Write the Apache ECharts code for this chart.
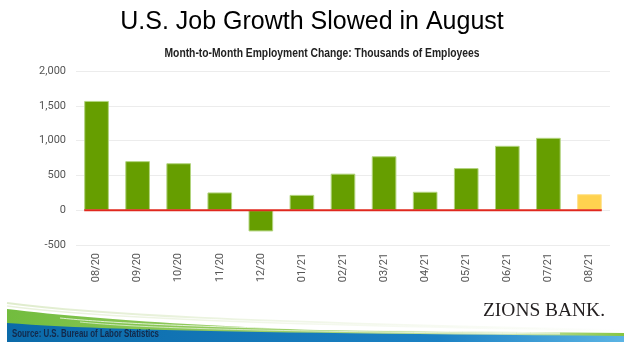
<!DOCTYPE html>
<html>
<head>
<meta charset="utf-8">
<script src="https://cdn.jsdelivr.net/npm/echarts@6/dist/echarts.min.js"></script>
<style>html,body{margin:0;padding:0;background:#fff}#c{width:624px;height:346px}</style>
</head>
<body>
<div id="c"></div>
<script>
const categories = ['08/20','09/20','10/20','11/20','12/20','01/21','02/21','03/21','04/21','05/21','06/21','07/21','08/21'];
const jobChange = [1570, 705, 675, 255, -305, 220, 525, 775, 265, 605, 925, 1040, 230];
const yTicks = { min: -500, max: 2000, interval: 500 };
const titleText = 'U.S. Job Growth Slowed in August';
const subtitleText = 'Month-to-Month Employment Change: Thousands of Employees';
const sourceText = 'Source: U.S. Bureau of Labor Statistics';
const logoText = 'ZIONS BANK.';

const GREEN = '#669e00', YELLOW = '#ffd24f';
const BAR_FRAC = 0.6;

function lg(stops) {
  return { type: 'linear', x: 0, y: 0, x2: 1, y2: 0,
    colorStops: stops.map(s => ({ offset: s[0], color: s[1] })) };
}
function bez(p0, p1, p2, p3, n) {
  const pts = [];
  for (let i = 0; i <= n; i++) {
    const t = i / n, u = 1 - t;
    pts.push([
      u*u*u*p0[0] + 3*u*u*t*p1[0] + 3*u*t*t*p2[0] + t*t*t*p3[0],
      u*u*u*p0[1] + 3*u*u*t*p1[1] + 3*u*t*t*p2[1] + t*t*t*p3[1]
    ]);
  }
  return pts;
}
const mctx = document.createElement('canvas').getContext('2d');
function fitScale(text, font, target) {
  mctx.font = font;
  const w = mctx.measureText(text).width;
  return w > 0 ? target / w : 1;
}
const SUB_FONT = 'bold 12px "Liberation Sans", sans-serif';
const SRC_FONT = 'bold 10.5px "Liberation Sans", sans-serif';
const LOGO_FONT = '18px "Liberation Serif", serif';
const subScale = fitScale(subtitleText, SUB_FONT, 315);
const srcScale = fitScale(sourceText, SRC_FONT, 147);
const logoScale = fitScale(logoText, LOGO_FONT, 122);

const chart = echarts.init(document.getElementById('c'), null, { renderer: 'canvas' });

const barData = jobChange.map((v, i) => ({
  value: v,
  itemStyle: i === jobChange.length - 1
    ? { color: YELLOW, borderColor: '#ffe28c', borderWidth: 1 }
    : { color: GREEN, borderColor: '#b2d47e', borderWidth: 1 }
}));

const greenPts = bez([7,309],[80,318],[200,326],[320,330],24).concat([[624,333],[624,337],[7,337]]);
const bluePts = bez([7,323],[100,330],[250,333],[624,336],24).concat([[624,342],[7,342]]);

chart.setOption({
  animation: false,
  backgroundColor: '#fff',
  title: [
    { text: titleText, left: 'center', top: 5,
      textStyle: { fontFamily: 'Liberation Sans, Arial, sans-serif', fontSize: 25, fontWeight: 'normal', color: '#000' } }
  ],
  grid: { left: 76, right: 14, top: 71, bottom: 101, containLabel: false },
  xAxis: {
    type: 'category',
    data: categories,
    boundaryGap: true,
    axisLine: { show: false, onZero: false },
    axisTick: { show: false },
    axisLabel: { rotate: 90, margin: 8, color: '#555', fontSize: 11, fontFamily: 'Roboto, Liberation Sans, sans-serif', interval: 0 },
    splitLine: { show: false }
  },
  yAxis: {
    type: 'value',
    min: yTicks.min, max: yTicks.max, interval: yTicks.interval,
    axisLine: { show: false },
    axisTick: { show: false },
    axisLabel: { color: '#555', fontSize: 11, margin: 10, fontFamily: 'Roboto, Liberation Sans, sans-serif',
      formatter: v => v.toLocaleString('en-US') },
    splitLine: { lineStyle: { color: '#ececec', width: 1 } }
  },
  series: [
    {
      type: 'bar',
      data: barData,
      barWidth: (BAR_FRAC * 100) + '%',
      z: 2
    },
    {
      type: 'custom',
      z: 5,
      silent: true,
      data: [[0, 0]],
      renderItem: function (params, api) {
        const p0 = api.coord([0, 0]);
        const p1 = api.coord([categories.length - 1, 0]);
        const band = api.size([1, 0])[0];
        return {
          type: 'line',
          shape: { x1: p0[0] - band * BAR_FRAC / 2, y1: p0[1], x2: p1[0] + band * BAR_FRAC / 2, y2: p1[1] },
          style: { stroke: '#e0281e', lineWidth: 2 }
        };
      }
    }
  ],
  graphic: [
    { type: 'text', z: 5, x: 322, y: 54, scaleX: subScale,
      style: { text: subtitleText, fill: '#222', fontSize: 12, fontWeight: 'bold', align: 'center', verticalAlign: 'middle',
        fontFamily: 'Liberation Sans, sans-serif' } },
    { type: 'polygon', z: 1, shape: { points: greenPts },
      style: { fill: lg([[0, '#72bc3e'], [0.45, '#9ccf68'], [0.8, '#cfe6b4'], [1, '#86c540']]) } },
    { type: 'bezierCurve', z: 2, shape: { x1: 7, y1: 303, cpx1: 90, cpy1: 314, cpx2: 230, cpy2: 322, x2: 624, y2: 330 },
      style: { fill: null, lineWidth: 2, stroke: lg([[0, '#dfeccc'], [1, 'rgba(230,240,215,0)']]) } },
    { type: 'bezierCurve', z: 2, shape: { x1: 7, y1: 306, cpx1: 90, cpy1: 317, cpx2: 230, cpy2: 324, x2: 624, y2: 331 },
      style: { fill: null, lineWidth: 1.5, stroke: lg([[0, '#e8f1da'], [1, 'rgba(230,240,215,0)']]) } },
    { type: 'bezierCurve', z: 3, shape: { x1: 60, y1: 318, cpx1: 130, cpy1: 325, cpx2: 240, cpy2: 329, x2: 560, y2: 333 },
      style: { fill: null, lineWidth: 1, stroke: 'rgba(255,255,255,0.75)' } },
    { type: 'bezierCurve', z: 3, shape: { x1: 80, y1: 322, cpx1: 140, cpy1: 328, cpx2: 240, cpy2: 331, x2: 560, y2: 334 },
      style: { fill: null, lineWidth: 1, stroke: 'rgba(255,255,255,0.6)' } },
    { type: 'polygon', z: 4, shape: { points: bluePts },
      style: { fill: lg([[0, '#0b6aa9'], [0.7, '#1b82c4'], [1, '#5bb4e4']]) } },
    { type: 'text', z: 5, x: 12, y: 334, scaleX: srcScale,
      style: { text: sourceText, fill: '#13294a', fontSize: 10.5, fontWeight: 'bold', verticalAlign: 'middle',
        fontFamily: 'Liberation Sans, sans-serif' } },
    { type: 'text', z: 5, x: 483, y: 311, scaleX: logoScale,
      style: { text: logoText, fill: '#231f20', fontSize: 18, verticalAlign: 'middle', fontFamily: 'Liberation Serif, Times New Roman, serif' } }
  ]
});
</script>
</body>
</html>
